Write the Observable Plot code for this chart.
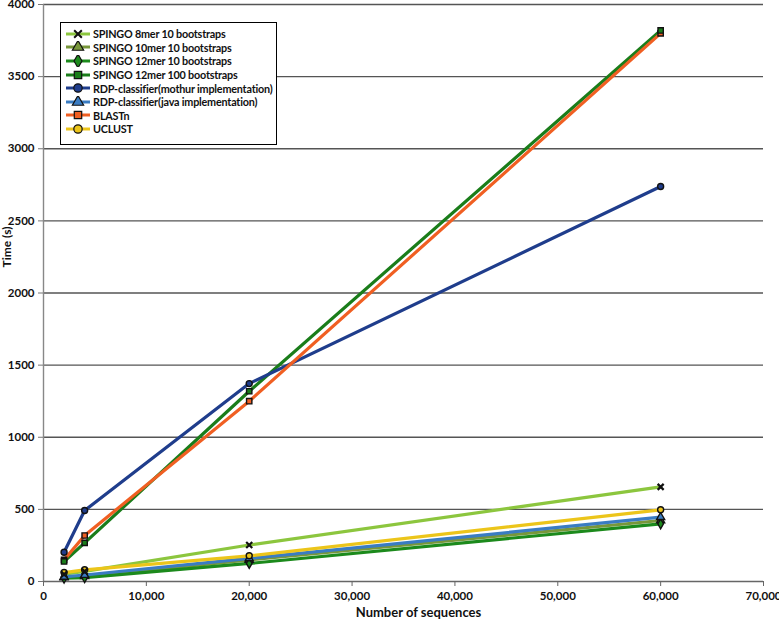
<!DOCTYPE html>
<html>
<head>
<meta charset="utf-8">
<script src="https://cdn.jsdelivr.net/npm/d3@7"></script>
<script src="https://cdn.jsdelivr.net/npm/@observablehq/plot@0.6"></script>
<style>
  html, body { margin: 0; padding: 0; background: #fff; }
  #wrap { position: relative; width: 779px; height: 621px; font-family: Lato, "Open Sans", sans-serif; }
  #legend { position: absolute; left: 60px; top: 22px; width: 217px; height: 123px; border: 1.5px solid #000; background: #fff; box-sizing: border-box; padding-top: 4px; }
  .row { display: flex; align-items: center; height: 13.6px; font-size: 10.8px; font-weight: 700; color: #111; white-space: nowrap; letter-spacing: -0.2px; }
  .row svg { margin-left: 4px; margin-right: 2px; flex: none; }
</style>
</head>
<body>
<div id="wrap"></div>
<script>
const sizes = [2000, 4000, 20000, 60000];
const seriesNames = [
  "SPINGO 8mer 10 bootstraps",
  "SPINGO 10mer 10 bootstraps",
  "SPINGO 12mer 10 bootstraps",
  "SPINGO 12mer 100 bootstraps",
  "RDP-classifier(mothur implementation)",
  "RDP-classifier(java implementation)",
  "BLASTn",
  "UCLUST"
];
const spingo8 = [50, 70, 253, 656];
const spingo10 = [28, 36, 150, 423];
const spingo12_10 = [24, 27, 125, 400];
const spingo12_100 = [139, 268, 1319, 3820];
const rdpMothur = [203, 492, 1372, 2738];
const rdpJava = [32, 45, 160, 446];
const blastn = [150, 319, 1250, 3800];
const uclust = [62, 81, 178, 497];
const seriesValues = [spingo8, spingo10, spingo12_10, spingo12_100, rdpMothur, rdpJava, blastn, uclust];
const colors = ["#8cc63e", "#78973a", "#1c8a1c", "#1a7d1a", "#1f3d8c", "#3a7cc2", "#f05f22", "#ecc51a"];
const symbols = ["times", "triangle", "diamond", "square", "circle", "triangle", "square", "circle"];
const xTicks = [0, 10000, 20000, 30000, 40000, 50000, 60000, 70000];
const yTicks = [0, 500, 1000, 1500, 2000, 2500, 3000, 3500, 4000];
const xTitle = "Number of sequences";
const yTitle = "Time (s)";

const data = [];
seriesNames.forEach((s, i) => sizes.forEach((n, j) => data.push({series: s, n, t: seriesValues[i][j], order: i})));
// BLASTn markers sit beneath the others
const dotData = [...data.filter(d => d.series === "BLASTn"), ...data.filter(d => d.series !== "BLASTn")];

const fontFam = "Lato, 'Open Sans', sans-serif";
const chart = Plot.plot({
  width: 779,
  height: 621,
  marginLeft: 43,
  marginRight: 16,
  marginTop: 4,
  marginBottom: 40,
  style: {fontFamily: fontFam, fontSize: "11.5px", fontWeight: 700, color: "#111", background: "#fff"},
  x: {domain: [0, 70000]},
  y: {domain: [0, 4000]},
  color: {domain: seriesNames, range: colors},
  symbol: {domain: seriesNames, range: symbols},
  marks: [
    Plot.gridY(yTicks.filter(d => d > 0), {stroke: "#555", strokeOpacity: 1, strokeWidth: 1.4}),
    Plot.ruleX([0], {stroke: "#888", strokeWidth: 1.4}),
    Plot.ruleY([0], {stroke: "#666", strokeWidth: 1.4}),
    Plot.axisY(yTicks, {tickSize: 5, tickPadding: 4, stroke: "#777", tickFormat: d => String(d), label: null}),
    Plot.axisX(xTicks, {tickSize: 5, tickPadding: 5, stroke: "#666", tickFormat: d3.format(","), label: null}),
    Plot.text([yTitle], {text: d => d, frameAnchor: "left", textAnchor: "middle", dx: -36, dy: -46, rotate: -90, fontSize: 12, fontWeight: 700}),
    Plot.text([xTitle], {text: d => d, frameAnchor: "bottom", dx: 15, dy: 35, fontSize: 13, fontWeight: 700}),
    Plot.line(data, {x: "n", y: "t", z: "series", stroke: "series", strokeWidth: 3.2}),
    Plot.dot(dotData, {x: "n", y: "t", symbol: "series", fill: "series", stroke: "#111", strokeWidth: d => d.series.startsWith("SPINGO 8mer") ? 2.2 : 1.4, r: d => d.series.startsWith("SPINGO 8mer") ? 4.5 : 5})
  ]
});
document.getElementById("wrap").appendChild(chart);

// legend
const legend = d3.select("#wrap").append("div").attr("id", "legend");
seriesNames.forEach((s, i) => {
  const row = legend.append("div").attr("class", "row");
  const svg = row.append("svg").attr("width", 26).attr("height", 12);
  svg.append("line").attr("x1", 1).attr("x2", 25).attr("y1", 6).attr("y2", 6).attr("stroke", colors[i]).attr("stroke-width", 3);
  const symMap = {times: d3.symbolTimes, triangle: d3.symbolTriangle, diamond: d3.symbolDiamond, square: d3.symbolSquare, circle: d3.symbolCircle};
  const sz = symbols[i] === "times" ? 40 : 55;
  svg.append("path").attr("transform", "translate(13,6)").attr("d", d3.symbol(symMap[symbols[i]], sz)())
    .attr("fill", colors[i]).attr("stroke", "#111").attr("stroke-width", symbols[i] === "times" ? 2 : 1.2);
  row.append("span").text(s);
});
</script>
</body>
</html>
